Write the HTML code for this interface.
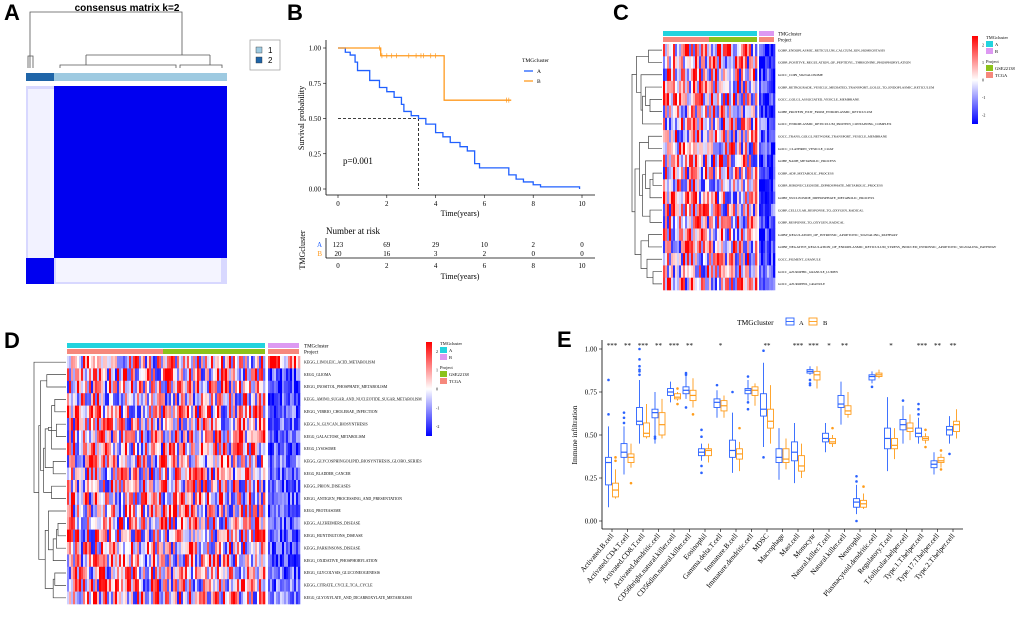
<!DOCTYPE html>
<html><head><meta charset="utf-8"><style>
body{margin:0;background:#fff;}
svg{display:block;font-family:"Liberation Serif",serif;}
.lbl{font-family:"Liberation Sans",sans-serif;font-weight:bold;font-size:22px;}
</style></head><body>
<svg id="s" width="1020" height="619" viewBox="0 0 1020 619" xmlns="http://www.w3.org/2000/svg">
<!-- Panel labels -->
<text class="lbl" x="4" y="20">A</text>
<text class="lbl" x="287" y="20">B</text>
<text class="lbl" x="613" y="20">C</text>
<text class="lbl" x="4" y="348">D</text>
<text class="lbl" x="557" y="347">E</text>

<!-- Panel A -->
<g>
<text x="127" y="11" text-anchor="middle" style="font-family:'Liberation Sans',sans-serif;font-weight:bold;font-size:10px">consensus matrix k=2</text>
<g stroke="#555" stroke-width="0.8" fill="none">
<path d="M30,68 V12 H182 V55"/>
<path d="M28,68 V56 H33 V68"/>
<path d="M86,55 H210"/>
<path d="M86,55 V65 M60,68 V65 H176 V68"/>
<path d="M210,55 V65 H180 V68 M210,65 H222 V68"/>
</g>
<rect x="26" y="73" width="28" height="8" fill="#1f65a8"/>
<rect x="54" y="73" width="173" height="8" fill="#9ecae1"/>
<rect x="26" y="86" width="201" height="198" fill="#d8d8ff"/>
<rect x="28" y="89" width="26" height="169" fill="#f2f2ff"/>
<rect x="54" y="86" width="173" height="172" fill="#0000f0"/>
<rect x="26" y="258" width="28" height="26" fill="#0000f0"/>
<rect x="56" y="258" width="165" height="24" fill="#f4f4ff"/>
<g>
<rect x="250" y="40" width="30" height="30" fill="#fff" stroke="#999" stroke-width="0.7"/>
<rect x="256" y="47" width="6" height="6" fill="#9ecae1" stroke="#333" stroke-width="0.4"/>
<text x="268" y="53" font-size="8" font-family="Liberation Sans,sans-serif">1</text>
<rect x="256" y="57" width="6" height="6" fill="#1f65a8" stroke="#333" stroke-width="0.4"/>
<text x="268" y="63" font-size="8" font-family="Liberation Sans,sans-serif">2</text>
</g>
</g>

<g id="pB"></g>
<g id="pC"></g>
<g id="pD"></g>
<g id="pE"></g>
</svg>
<script>
const NS="http://www.w3.org/2000/svg";
function mk(parent,tag,attrs,text){const e=document.createElementNS(NS,tag);for(const k in attrs)e.setAttribute(k,attrs[k]);if(text!==undefined)e.textContent=text;parent.appendChild(e);return e;}

// ===== Panel B data =====
const kmTimesA=[0,0.3,0.5,0.7,0.8,1.1,1.3,1.7,2.0,2.3,2.6,2.7,3.0,3.3,3.6,4.0,4.3,4.6,5.0,5.3,5.6,5.8,6.6,7.0,7.3,7.6,8.0,8.3,9.9];
const kmSurvA=[1,0.97,0.95,0.9,0.84,0.84,0.77,0.72,0.69,0.65,0.6,0.55,0.52,0.5,0.46,0.4,0.37,0.33,0.3,0.27,0.18,0.15,0.15,0.1,0.07,0.05,0.03,0.015,0.0];
const kmTimesB=[0,1.75,4.35,7.1];
const kmSurvB=[1,0.945,0.63,0.63];
const censorTimesB=[1.7,1.8,2.0,2.2,2.4,2.9,3.2,3.4,3.5,3.8,4.0,6.9,7.0];
const riskTicks=[0,2,4,6,8,10];
const riskA=[123,69,29,10,2,0];
const riskB=[20,16,3,2,0,0];
const survTicks=[0,0.25,0.5,0.75,1];
(function(){
 const g=document.getElementById('pB');
 const X=t=>338+t*24.4, Y=s=>189-s*141;
 mk(g,'line',{x1:326,y1:40,x2:326,y2:195,stroke:'#000','stroke-width':0.8});
 mk(g,'line',{x1:326,y1:195,x2:595,y2:195,stroke:'#000','stroke-width':0.8});
 survTicks.forEach(v=>{mk(g,'line',{x1:323,x2:326,y1:Y(v),y2:Y(v),stroke:'#000','stroke-width':0.6});
  const t=mk(g,'text',{x:321,y:Y(v)+2.5,'text-anchor':'end','font-size':7},v.toFixed(2));
  });
 riskTicks.forEach(v=>{mk(g,'line',{x1:X(v),x2:X(v),y1:195,y2:198,stroke:'#000','stroke-width':0.6});
  mk(g,'text',{x:X(v),y:206,'text-anchor':'middle','font-size':7},v);});
 mk(g,'text',{x:460,y:216,'text-anchor':'middle','font-size':8},'Time(years)');
 mk(g,'text',{x:0,y:0,transform:'translate(304,118) rotate(-90)','text-anchor':'middle','font-size':8},'Survival probability');
 function stepPath(ts,ss,end){let d=`M${X(ts[0])},${Y(ss[0])}`;for(let i=1;i<ts.length;i++){d+=` H${X(ts[i])} V${Y(ss[i])}`;}if(end)d+=` H${X(end)}`;return d;}
 mk(g,'path',{d:'M'+X(0)+','+Y(0.5)+' H'+X(3.3)+' V'+Y(0),stroke:'#000','stroke-dasharray':'3,2',fill:'none','stroke-width':0.8});
 const pa=mk(g,'path',{d:stepPath(kmTimesA,kmSurvA),stroke:'#2060ff',fill:'none','stroke-width':1.3});
 
 const pb=mk(g,'path',{d:stepPath(kmTimesB,kmSurvB),stroke:'#ff9a1f',fill:'none','stroke-width':1.3});
 
 censorTimesB.forEach(t=>{let s=1;for(let i=0;i<kmTimesB.length;i++)if(kmTimesB[i]<=t)s=kmSurvB[i];
  mk(g,'path',{d:`M${X(t)},${Y(s)-2.5} v5`,stroke:'#ff9a1f','stroke-width':0.7});});
 mk(g,'text',{x:343,y:164,'font-size':9},'p=0.001');
 mk(g,'text',{x:522,y:62,'font-size':5.5},'TMGcluster');
 mk(g,'line',{x1:524,x2:533,y1:71,y2:71,stroke:'#2060ff','stroke-width':1.3});
 mk(g,'text',{x:537,y:73,'font-size':5.5},'A');
 mk(g,'line',{x1:524,x2:533,y1:81,y2:81,stroke:'#ff9a1f','stroke-width':1.3});
 mk(g,'text',{x:537,y:83,'font-size':5.5},'B');
 mk(g,'text',{x:326,y:234,'font-size':9},'Number at risk');
 riskTicks.forEach((v,i)=>{mk(g,'text',{x:X(v),y:247,'text-anchor':'middle','font-size':7},riskA[i]);
  mk(g,'text',{x:X(v),y:256,'text-anchor':'middle','font-size':7},riskB[i]);});
 mk(g,'text',{x:322,y:247,'text-anchor':'end','font-size':7,fill:'#2060ff'},'A');
 mk(g,'text',{x:322,y:256,'text-anchor':'end','font-size':7,fill:'#ff9a1f'},'B');
 mk(g,'line',{x1:326,y1:238,x2:326,y2:258,stroke:'#000','stroke-width':0.8});
 mk(g,'line',{x1:326,y1:258,x2:595,y2:258,stroke:'#000','stroke-width':0.8});
 riskTicks.forEach(v=>mk(g,'text',{x:X(v),y:268,'text-anchor':'middle','font-size':7},v));
 mk(g,'text',{x:460,y:279,'text-anchor':'middle','font-size':8},'Time(years)');
 mk(g,'text',{x:0,y:0,transform:'translate(305,250) rotate(-90)','text-anchor':'middle','font-size':8},'TMGcluster');
})();

// ===== Heatmaps =====
const goRows=["GOBP_ENDOPLASMIC_RETICULUM_CALCIUM_ION_HOMEOSTASIS","GOBP_POSITIVE_REGULATION_OF_PEPTIDYL_THREONINE_PHOSPHORYLATION","GOCC_COP9_SIGNALOSOME","GOBP_RETROGRADE_VESICLE_MEDIATED_TRANSPORT_GOLGI_TO_ENDOPLASMIC_RETICULUM","GOCC_GOLGI_ASSOCIATED_VESICLE_MEMBRANE","GOBP_PROTEIN_EXIT_FROM_ENDOPLASMIC_RETICULUM","GOCC_ENDOPLASMIC_RETICULUM_PROTEIN_CONTAINING_COMPLEX","GOCC_TRANS_GOLGI_NETWORK_TRANSPORT_VESICLE_MEMBRANE","GOCC_CLATHRIN_VESICLE_COAT","GOBP_NADH_METABOLIC_PROCESS","GOBP_ADP_METABOLIC_PROCESS","GOBP_RIBONUCLEOSIDE_DIPHOSPHATE_METABOLIC_PROCESS","GOBP_NUCLEOSIDE_DIPHOSPHATE_METABOLIC_PROCESS","GOBP_CELLULAR_RESPONSE_TO_OXYGEN_RADICAL","GOBP_RESPONSE_TO_OXYGEN_RADICAL","GOBP_REGULATION_OF_INTRINSIC_APOPTOTIC_SIGNALING_PATHWAY","GOBP_NEGATIVE_REGULATION_OF_ENDOPLASMIC_RETICULUM_STRESS_INDUCED_INTRINSIC_APOPTOTIC_SIGNALING_PATHWAY","GOCC_PIGMENT_GRANULE","GOCC_AZUROPHIL_GRANULE_LUMEN","GOCC_AZUROPHIL_GRANULE"];
const keggRows=["KEGG_LINOLEIC_ACID_METABOLISM","KEGG_GLIOMA","KEGG_INOSITOL_PHOSPHATE_METABOLISM","KEGG_AMINO_SUGAR_AND_NUCLEOTIDE_SUGAR_METABOLISM","KEGG_VIBRIO_CHOLERAE_INFECTION","KEGG_N_GLYCAN_BIOSYNTHESIS","KEGG_GALACTOSE_METABOLISM","KEGG_LYSOSOME","KEGG_GLYCOSPHINGOLIPID_BIOSYNTHESIS_GLOBO_SERIES","KEGG_BLADDER_CANCER","KEGG_PRION_DISEASES","KEGG_ANTIGEN_PROCESSING_AND_PRESENTATION","KEGG_PROTEASOME","KEGG_ALZHEIMERS_DISEASE","KEGG_HUNTINGTONS_DISEASE","KEGG_PARKINSONS_DISEASE","KEGG_OXIDATIVE_PHOSPHORYLATION","KEGG_GLYCOLYSIS_GLUCONEOGENESIS","KEGG_CITRATE_CYCLE_TCA_CYCLE","KEGG_GLYOXYLATE_AND_DICARBOXYLATE_METABOLISM"];
const goBiasB=[-1.9,-1.9,-1.8,-1.8,-1.9,-1.9,-1.5,-1.7,-1.8,-1.8,-1.8,-1.9,-1.9,-1.5,-1.6,-1.8,-1.8,-1.7,-1.4,-1.6];
const keggBiasB=[1.2,-1.5,-1.6,-1.6,-1.5,-1.4,-1.5,-1.5,-1.2,-1.4,-1.5,-1.5,-1.5,-1.5,-1.4,-1.5,-1.6,-1.4,-1.3,-1.2];
const treeMerges=[[0,1,.45],[4,5,.4],[3,21,.55],[22,6,.65],[2,23,.7],[20,24,.85],[7,8,.45],[10,11,.3],[27,12,.4],[9,28,.55],[13,14,.4],[29,30,.65],[26,31,.75],[15,16,.45],[18,19,.3],[17,34,.5],[33,35,.7],[32,36,.9],[25,37,1.0]];
const keggMerges=[[1,2,.6],[3,4,.35],[5,6,.3],[21,7,.45],[22,23,.55],[8,9,.4],[24,25,.65],[10,11,.45],[26,27,.7],[20,28,.8],[13,14,.25],[30,15,.3],[31,16,.4],[12,32,.55],[17,18,.35],[34,19,.4],[33,35,.65],[29,36,.85],[0,37,1.0]];
function hash(a,b){let h=(a*374761393+b*668265263)^0x5bd1e995;h=(h^(h>>>13))*1274126177;h=h^(h>>>16);return ((h>>>0)%10000)/10000;}
function col(v){v=Math.max(-2.5,Math.min(2.5,v));const t=Math.abs(v)/2.3;const k=Math.min(1,t);
 const w=Math.round(255*(1-k));return v>=0?`rgb(255,${w},${w})`:`rgb(${w},${w},255)`;}
function heatmap(gid,rows,biasB,merges,o){
 const g=document.getElementById(gid);
 const rh=(o.y1-o.y0)/rows.length;
 // annotation bars
 let r=mk(g,'rect',{x:o.ax0,y:o.ay,width:o.ax1-o.ax0,height:5,fill:'#22d3de'});
 
 r=mk(g,'rect',{x:o.bx0,y:o.ay,width:o.bx1-o.bx0,height:5,fill:'#dd99f2'});
 
 mk(g,'rect',{x:o.ax0,y:o.ay+6,width:o.split-o.ax0,height:5,fill:'#f6887c'});
 mk(g,'rect',{x:o.split,y:o.ay+6,width:o.ax1-o.split,height:5,fill:'#8cc21a'});
 mk(g,'rect',{x:o.bx0,y:o.ay+6,width:o.bx1-o.bx0,height:5,fill:'#f6887c'});
 mk(g,'text',{x:o.lx,y:o.ay+4.5,'font-size':o.fs*1.4},'TMGcluster');
 mk(g,'text',{x:o.lx,y:o.ay+10.5,'font-size':o.fs*1.4},'Project');
 const cw=o.cw;
 rows.forEach((name,i)=>{
  const y=o.y0+i*rh;
  const nA=Math.round((o.ax1-o.ax0)/cw);
  for(let c=0;c<nA;c++){const v=0.25+(hash(i+o.seed,c)-0.5)*4.6;
   mk(g,'rect',{x:o.ax0+c*cw,y:y,width:cw+0.3,height:rh+0.3,fill:col(v)});}
  const nB=Math.round((o.bx1-o.bx0)/cw);
  for(let c=0;c<nB;c++){const v=biasB[i]+(hash(i+o.seed+50,c)-0.5)*(biasB[i]>0?4:2.0);
   mk(g,'rect',{x:o.bx0+c*cw,y:y,width:cw+0.3,height:rh+0.3,fill:col(v)});}
  const t=mk(g,'text',{x:o.lx,y:y+rh/2+1.2,'font-size':o.fs,textLength:name.length*o.cpx,lengthAdjust:'spacingAndGlyphs'},name);
  
 });
 // dendrogram
 const pos=[];rows.forEach((n,i)=>pos.push([o.y0+(i+0.5)*rh,0]));
 const X=h=>o.dx1-h*(o.dx1-o.dx0);
 merges.forEach(m=>{const a=pos[m[0]],b=pos[m[1]];
  mk(g,'path',{d:`M${X(a[1])},${a[0]} H${X(m[2])} V${b[0]} H${X(b[1])}`,fill:'none',stroke:'#444','stroke-width':0.7});
  pos.push([(a[0]+b[0])/2,m[2]]);});
 // legend
 const lg=mk(g,'g',{});
 
 const def=mk(lg,'defs',{});const grad=mk(def,'linearGradient',{id:gid+'g',x1:0,y1:0,x2:0,y2:1});
 mk(grad,'stop',{offset:'0',
  'stop-color':'#ff0000'});mk(grad,'stop',{offset:'0.5','stop-color':'#ffffff'});mk(grad,'stop',{offset:'1','stop-color':'#0000ff'});
 mk(lg,'rect',{x:o.cbx,y:o.cby,width:6,height:o.cbh,fill:`url(#${gid}g)`});
 [2,1,0,-1,-2].forEach((v,k)=>mk(lg,'text',{x:o.cbx+10,y:o.cby+o.cbh*(0.1+k*0.2)+1.5,'font-size':4},v));
 const tx=o.cbx+14;
 mk(lg,'text',{x:tx,y:o.cby+3,'font-size':4.5},'TMGcluster');
 mk(lg,'rect',{x:tx,y:o.cby+5,width:7,height:6,fill:'#22d3de'});mk(lg,'text',{x:tx+9,y:o.cby+10,'font-size':4.5},'A');
 mk(lg,'rect',{x:tx,y:o.cby+12,width:7,height:6,fill:'#dd99f2'});mk(lg,'text',{x:tx+9,y:o.cby+17,'font-size':4.5},'B');
 mk(lg,'text',{x:tx,y:o.cby+27,'font-size':4.5},'Project');
 mk(lg,'rect',{x:tx,y:o.cby+29,width:7,height:6,fill:'#8cc21a'});mk(lg,'text',{x:tx+9,y:o.cby+34,'font-size':4.5},'GSE22138');
 mk(lg,'rect',{x:tx,y:o.cby+36,width:7,height:6,fill:'#f6887c'});mk(lg,'text',{x:tx+9,y:o.cby+41,'font-size':4.5},'TCGA');
}
heatmap('pC',goRows,goBiasB,treeMerges,{ax0:663,ax1:757,bx0:759,bx1:774,split:709,ay:31,y0:44,y1:290,lx:778,fs:3.4,cpx:2.14,cw:2,seed:3,dx0:632,dx1:662,cbx:972,cby:36,cbh:88});
heatmap('pD',keggRows,keggBiasB,keggMerges,{ax0:67,ax1:265,bx0:268,bx1:299,split:163,ay:343,y0:356,y1:604,lx:304,fs:3.6,cpx:2.45,cw:2,seed:11,dx0:34,dx1:66,cbx:426,cby:342,cbh:94});

// ===== Panel E data =====
const cellTypes=["Activated.B.cell","Activated.CD4.T.cell","Activated.CD8.T.cell","Activated.dendritic.cell","CD56bright.natural.killer.cell","CD56dim.natural.killer.cell","Eosinophil","Gamma.delta.T.cell","Immature.B.cell","Immature.dendritic.cell","MDSC","Macrophage","Mast.cell","Monocyte","Natural.killer.T.cell","Natural.killer.cell","Neutrophil","Plasmacytoid.dendritic.cell","Regulatory.T.cell","T.follicular.helper.cell","Type.1.T.helper.cell","Type.17.T.helper.cell","Type.2.T.helper.cell"];
// [low whisker, q1, median, q3, high whisker]
const boxA=[[.08,.21,.34,.37,.55],[.27,.37,.40,.45,.55],[.45,.56,.58,.66,.82],[.45,.60,.63,.65,.75],[.69,.73,.75,.77,.81],[.71,.74,.76,.78,.85],[.35,.38,.40,.42,.45],[.60,.66,.69,.71,.76],[.28,.37,.41,.47,.63],[.70,.74,.76,.77,.82],[.43,.61,.65,.74,.92],[.24,.34,.37,.42,.54],[.22,.35,.40,.46,.57],[.85,.86,.87,.88,.90],[.40,.46,.48,.51,.57],[.56,.66,.68,.73,.81],[.04,.08,.11,.13,.21],[.80,.82,.84,.85,.87],[.29,.42,.48,.54,.72],[.45,.53,.56,.59,.67],[.45,.49,.51,.54,.60],[.27,.31,.33,.35,.40],[.45,.50,.53,.55,.61]];
const boxB=[[.13,.14,.18,.22,.30],[.31,.34,.37,.39,.45],[.48,.49,.51,.57,.68],[.48,.50,.56,.63,.71],[.70,.71,.72,.74,.75],[.66,.70,.73,.76,.83],[.34,.38,.41,.42,.45],[.60,.64,.67,.70,.73],[.29,.36,.39,.42,.46],[.67,.73,.76,.78,.80],[.45,.54,.58,.65,.79],[.30,.34,.36,.42,.48],[.25,.29,.32,.38,.45],[.77,.82,.85,.87,.90],[.43,.45,.46,.48,.50],[.60,.62,.64,.67,.75],[.07,.08,.10,.12,.16],[.83,.84,.85,.86,.88],[.36,.42,.44,.48,.54],[.47,.52,.54,.57,.62],[.45,.47,.48,.49,.51],[.31,.34,.35,.37,.39],[.48,.52,.56,.58,.65]];
const outA=[[.62,.82],[.57,.6,.63],[.85,.87,.88,.9,.94,1.0],[.48,.49],[],[.66,.85,.86],[.28,.32,.49,.53],[.79],[.75],[.65,.69,.84],[.37,.99],[],[],[.79,.8,.82],[],[],[0,.23,.26],[.78],[],[.70],[.62,.65,.68],[],[.39]];
const outB=[[.35,.37],[.22],[],[],[.77,.68],[.62],[],[],[.54],[],[],[],[],[],[.54],[],[.20],[],[],[],[.43,.53],[.30,.41],[]];
const sigStars=["***","**","***","**","***","**","","*","","","**","","***","***","*","**","","","*","","***","**","**"];
const yTicksE=[0,0.25,0.5,0.75,1];
(function(){
 const g=document.getElementById('pE');
 const Y=v=>521-v*172, X=i=>612+i*15.5;
 const cA='#2a62ff',cB='#ff9c1a';
 mk(g,'line',{x1:602,y1:340,x2:602,y2:529,stroke:'#000','stroke-width':0.8});
 mk(g,'line',{x1:602,y1:529,x2:963,y2:529,stroke:'#000','stroke-width':0.8});
 yTicksE.forEach(v=>{mk(g,'line',{x1:599,x2:602,y1:Y(v),y2:Y(v),stroke:'#000','stroke-width':0.6});
  const t=mk(g,'text',{x:597,y:Y(v)+2.5,'text-anchor':'end','font-size':7},v.toFixed(2));
  });
 mk(g,'text',{x:0,y:0,transform:'translate(577,435) rotate(-90)','text-anchor':'middle','font-size':7.5},'Immune infiltration');
 function box(x,b,outs,c,name){
  const gg=mk(g,'g',{});
  mk(gg,'line',{x1:x,x2:x,y1:Y(b[0]),y2:Y(b[4]),stroke:c,'stroke-width':0.9});
  mk(gg,'rect',{x:x-3,y:Y(b[3]),width:6,height:Y(b[1])-Y(b[3]),fill:'#fff',stroke:c,'stroke-width':0.9});
  mk(gg,'line',{x1:x-3,x2:x+3,y1:Y(b[2]),y2:Y(b[2]),stroke:c,'stroke-width':1.2});
  outs.forEach(v=>mk(gg,'circle',{cx:x,cy:Y(v),r:1.3,fill:c}));
 }
 cellTypes.forEach((n,i)=>{
  box(X(i)-3.5,boxA[i],outA[i],cA,'box-a');
  box(X(i)+3.5,boxB[i],outB[i],cB,'box-b');
  mk(g,'line',{x1:X(i),x2:X(i),y1:529,y2:532,stroke:'#000','stroke-width':0.6});
  const t=mk(g,'text',{x:0,y:0,transform:`translate(${X(i)+2},${536}) rotate(-50)`,'text-anchor':'end','font-size':7.3},n);
  
  if(sigStars[i])mk(g,'text',{x:X(i),y:348,'text-anchor':'middle','font-size':7},sigStars[i]);
 });
 const lg=mk(g,'g',{});
 mk(lg,'text',{x:737,y:325,'font-size':7.5},'TMGcluster');
 mk(lg,'rect',{x:786,y:318,width:8,height:7,fill:'#fff',stroke:cA,'stroke-width':0.9});
 mk(lg,'line',{x1:786,x2:794,y1:321.5,y2:321.5,stroke:cA,'stroke-width':0.9});
 mk(lg,'text',{x:799,y:325,'font-size':6.5},'A');
 mk(lg,'rect',{x:809,y:318,width:8,height:7,fill:'#fff',stroke:cB,'stroke-width':0.9});
 mk(lg,'line',{x1:809,x2:817,y1:321.5,y2:321.5,stroke:cB,'stroke-width':0.9});
 mk(lg,'text',{x:823,y:325,'font-size':6.5},'B');
})();
</script>
</body></html>
